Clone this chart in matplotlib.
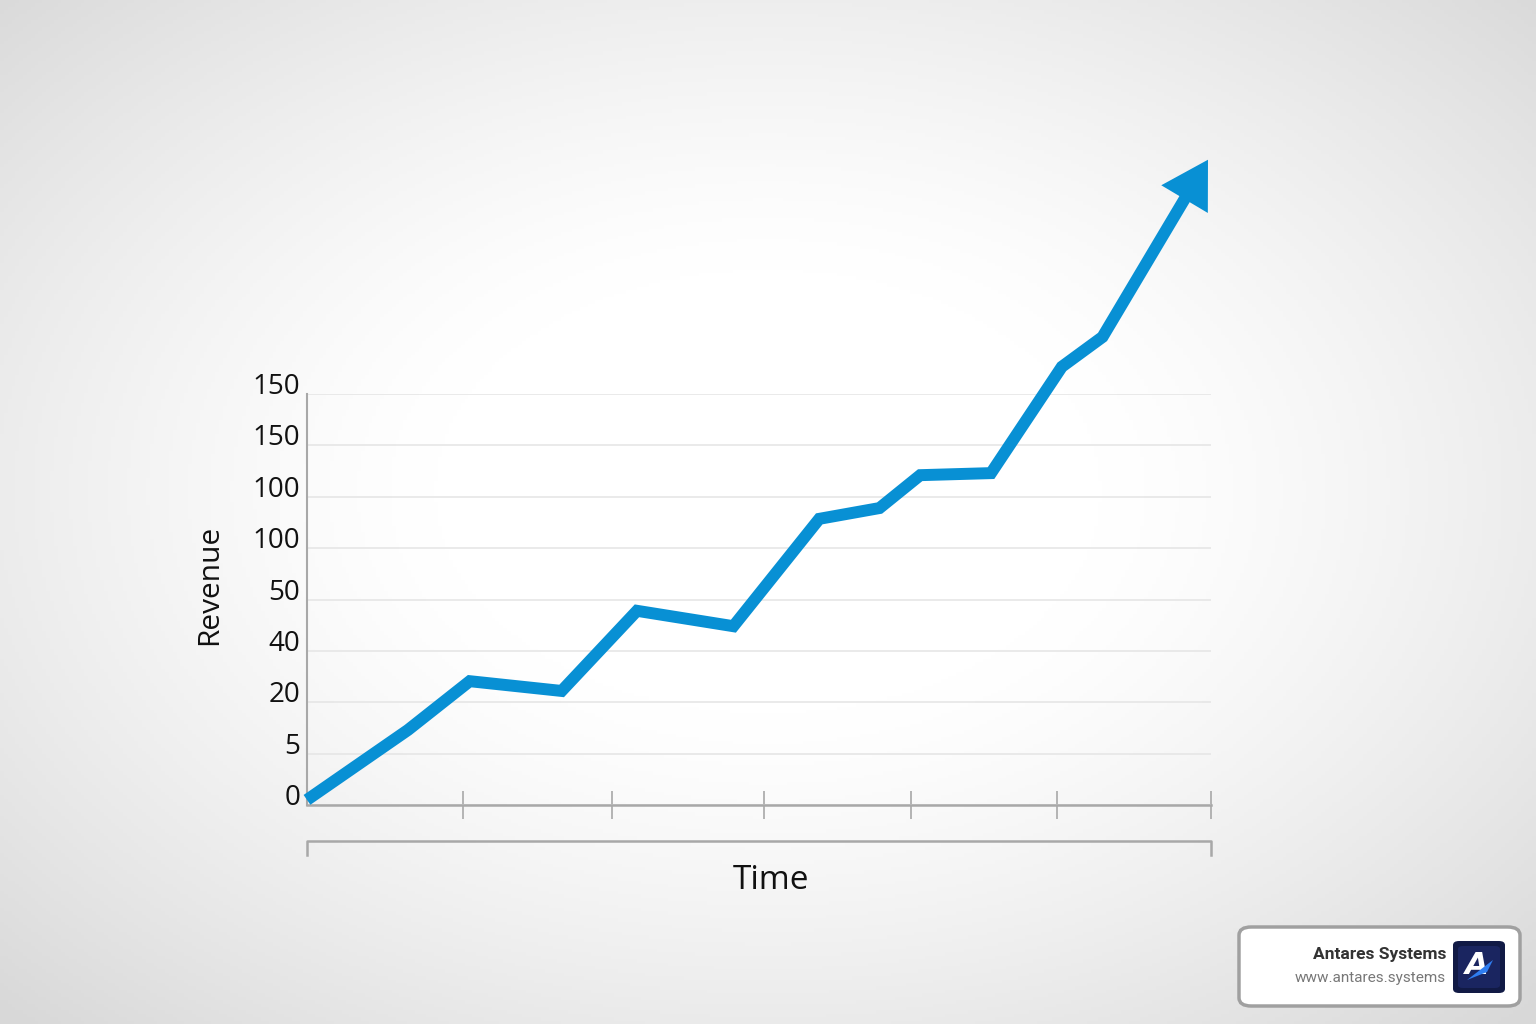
import numpy as np
import matplotlib
matplotlib.use("Agg")
import matplotlib.pyplot as plt
from matplotlib.patches import FancyBboxPatch, FancyArrowPatch, Polygon

# ---- data ----
x_vals = [0.0, 0.67, 1.08, 1.69, 2.19, 2.83, 3.40, 3.80, 4.07, 4.54, 5.01, 5.28, 5.98]
y_vals = [0.10, 1.46, 2.41, 2.22, 3.78, 3.48, 5.57, 5.78, 6.42, 6.46, 8.53, 9.11, 12.56]
y_tick_labels = ["0", "5", "20", "40", "50", "100", "100", "150", "150"]
x_ticks = [1.035, 2.025, 3.03, 4.01, 4.98, 6.0]
x_label = "Time"
y_label = "Revenue"
brand = "Antares Systems"
url = "www.antares.systems"

LINE = "#0890d4"
AX = "#a8a8a8"
FONT = ["Open Sans", "DejaVu Sans"]

fig = plt.figure(figsize=(15.36, 10.24), dpi=100)

# background radial gradient
bg = fig.add_axes([0, 0, 1, 1], zorder=-10)
gx, gy = np.meshgrid(np.linspace(0, 1, 400), np.linspace(0, 1, 300))
r = np.sqrt(((gx - 0.5) / 0.62) ** 2 + ((gy - 0.52) / 0.62) ** 2)
v = 1.0 - 0.14 * np.clip(r - 0.35, 0, None) ** 1.3 / (0.75 ** 1.3)
v = np.clip(v, 0.85, 1.0)
bg.imshow(np.dstack([v, v, v]), extent=[0, 1, 0, 1], aspect="auto", origin="lower")
bg.axis("off")

left, right = 307 / 1536, 1211 / 1536
bottom, top = 1 - 805 / 1024, 1 - 394 / 1024
ax = fig.add_axes([left, bottom, right - left, top - bottom])
ax.set_facecolor("none")
ax.set_xlim(0, 6)
ax.set_ylim(0, 8)

ax.set_yticks(range(len(y_tick_labels)))
ax.set_yticklabels(y_tick_labels, fontsize=20, family=FONT, color="#111111")
for lab in ax.get_yticklabels():
    lab.set_verticalalignment("baseline")
ax.tick_params(axis="y", length=0, pad=5)
ax.grid(axis="y", color="#e6e6e6", lw=1.2)
ax.set_axisbelow(True)

ax.set_xticks(x_ticks)
ax.set_xticklabels([])
ax.tick_params(axis="x", direction="inout", length=20, width=1.2, color=AX)

for s in ["top", "right"]:
    ax.spines[s].set_visible(False)
ax.spines["left"].set_color(AX)
ax.spines["bottom"].set_color(AX)
ax.spines["left"].set_linewidth(1.5)
ax.spines["bottom"].set_linewidth(1.8)

ax.set_ylabel(y_label, fontsize=21.5, family=FONT, color="#111111")
ax.yaxis.set_label_coords(-0.092, 0.535)

# main line, ending inside the arrow head
f = 0.88
x_end = x_vals[-2] + f * (x_vals[-1] - x_vals[-2])
y_end = y_vals[-2] + f * (y_vals[-1] - y_vals[-2])
ax.plot(x_vals[:-1] + [x_end], y_vals[:-1] + [y_end], color=LINE, lw=8.6,
        solid_joinstyle="miter", solid_capstyle="butt", clip_on=False, zorder=5)
# arrow head
head = FancyArrowPatch((x_vals[-2], y_vals[-2]), (x_vals[-1], y_vals[-1]),
                       arrowstyle="-|>,head_length=33,head_width=19.5", mutation_scale=1,
                       color=LINE, lw=0, shrinkA=0, shrinkB=0, clip_on=False, zorder=6)
ax.add_patch(head)

# bracket below axis
yb = -36 / 51.375
ax.plot([0, 0, 6, 6], [yb - 14 / 51.375, yb, yb, yb - 14 / 51.375], color=AX, lw=1.8,
        clip_on=False)
ax.text(3.08, yb - 20 / 51.375 - 0.05, x_label, fontsize=24, family=FONT, color="#111111",
        ha="center", va="top", transform=ax.transData, clip_on=False)

# watermark
box = FancyBboxPatch((1239 / 1536, 1 - 1006 / 1024), (1520 - 1239) / 1536, (1006 - 927) / 1024,
                     boxstyle="round,pad=0,rounding_size=0.008", transform=fig.transFigure,
                     facecolor="white", edgecolor="#a0a0a0", lw=2.5, zorder=20)
fig.patches.append(box)
fig.text(1446 / 1536, 1 - 954 / 1024, brand, fontsize=12.5, fontweight="bold",
         family=["Roboto", "DejaVu Sans"], color="#333333", ha="right", va="center", zorder=21)
fig.text(1446 / 1536, 1 - 978 / 1024, url, fontsize=11, family=["Roboto", "DejaVu Sans"],
         color="#777777", ha="right", va="center", zorder=21)
logo = FancyBboxPatch((1453 / 1536, 1 - 993 / 1024), 52 / 1536, 52 / 1024,
                      boxstyle="round,pad=0,rounding_size=0.004", transform=fig.transFigure,
                      facecolor="#111a45", edgecolor="none", zorder=21)
fig.patches.append(logo)
inner = FancyBboxPatch((1458 / 1536, 1 - 988 / 1024), 42 / 1536, 42 / 1024,
                       boxstyle="round,pad=0,rounding_size=0.003", transform=fig.transFigure,
                       facecolor="#1a2560", edgecolor="none", zorder=21)
fig.patches.append(inner)
fig.text(1477 / 1536, 1 - 966 / 1024, "A", fontsize=22, fontweight="bold", color="white",
         style="italic", ha="center", va="center", family=["DejaVu Sans"], zorder=22)
swoosh = Polygon([[1467 / 1536, 1 - 980 / 1024], [1493 / 1536, 1 - 960 / 1024],
                  [1487 / 1536, 1 - 972 / 1024]], closed=True, transform=fig.transFigure,
                 facecolor="#2f7df0", edgecolor="none", zorder=23)
fig.patches.append(swoosh)

fig.savefig("out.png", dpi=100)
